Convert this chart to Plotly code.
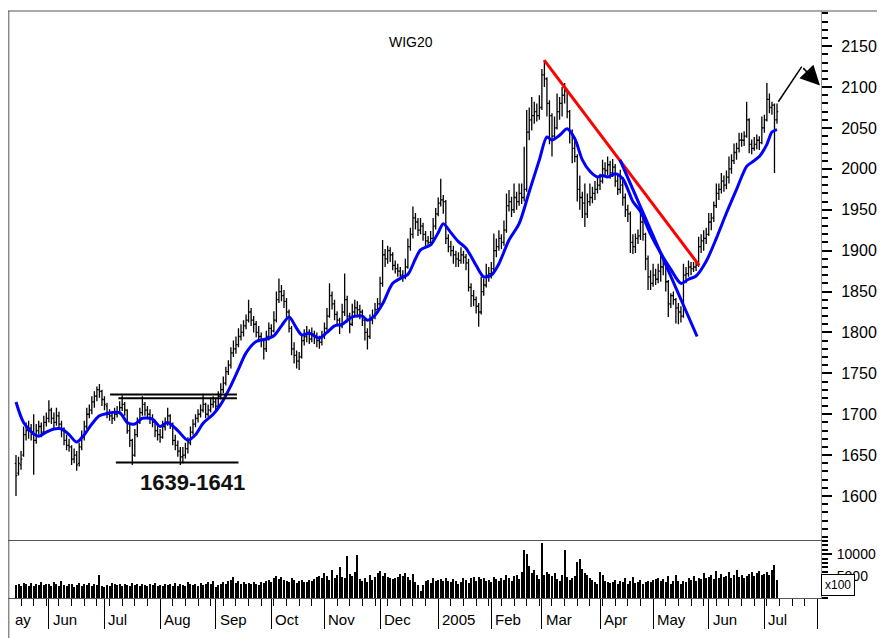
import pandas as pd
import plotly.graph_objects as go

# ---------------- data ----------------
open_ = [1640,1628,1638,1650,1675,1680,1683,1678,1668,1680,1685,1678,1690,1695,1705,1695,1690,1698,1688,1680,
         1668,1662,1660,1645,1650,1640,1660,1672,1685,1700,1705,1715,1722,1730,1728,1718,1710,1700,1698,1695,
         1700,1703,1708,1712,1705,1680,1668,1650,1675,1690,1702,1712,1705,1700,1695,1690,1680,1675,1672,1685,
         1690,1698,1688,1668,1662,1655,1648,1650,1658,1665,1678,1688,1695,1700,1705,1712,1700,1705,1712,1715,
         1710,1722,1730,1738,1752,1760,1775,1780,1785,1795,1800,1808,1815,1825,1815,1810,1800,1795,1790,1780,
         1795,1805,1802,1815,1840,1850,1845,1838,1825,1805,1780,1772,1765,1770,1790,1795,1800,1792,1798,1795,
         1790,1788,1795,1805,1820,1845,1835,1822,1815,1808,1825,1840,1820,1810,1825,1830,1828,1825,1815,1800,
         1795,1815,1820,1828,1835,1860,1895,1890,1900,1895,1882,1878,1875,1870,1868,1880,1905,1920,1940,1935,
         1925,1930,1920,1912,1910,1915,1930,1945,1958,1962,1960,1915,1905,1900,1895,1890,1888,1895,1892,1885,
         1855,1845,1840,1832,1825,1850,1858,1870,1872,1878,1900,1905,1915,1910,1925,1955,1960,1950,1965,1960,
         1970,1965,1975,2045,2060,2065,2070,2065,2075,2115,2110,2080,2065,2040,2050,2070,2080,2090,2095,2070,
         2045,2025,2015,1975,1965,1958,1945,1960,1965,1970,1975,1980,1985,2000,1998,2005,1995,2002,1985,1975,
         1980,1965,1950,1945,1910,1905,1915,1918,1935,1920,1890,1868,1860,1870,1865,1875,1880,1885,1862,1835,
         1845,1840,1830,1825,1820,1870,1872,1880,1878,1880,1882,1905,1912,1915,1920,1935,1940,1955,1970,1975,
         1985,1980,1990,2000,2010,2020,2025,2035,2035,2040,2060,2030,2025,2030,2035,2032,2050,2060,2085,2075,
         2078,2060]
high = [1650,1648,1655,1685,1690,1692,1688,1700,1688,1692,1690,1698,1702,1717,1708,1702,1708,1703,1692,1684,
        1675,1670,1662,1658,1655,1665,1680,1692,1708,1712,1722,1728,1734,1737,1730,1722,1714,1706,1702,1708,
        1710,1716,1723,1715,1706,1688,1670,1682,1696,1708,1722,1715,1710,1706,1700,1692,1686,1682,1692,1696,
        1708,1700,1690,1675,1668,1660,1660,1665,1672,1685,1694,1700,1706,1712,1725,1714,1712,1720,1722,1720,
        1728,1738,1746,1758,1766,1782,1790,1795,1805,1810,1815,1822,1840,1830,1820,1814,1808,1800,1792,1802,
        1812,1810,1826,1850,1866,1858,1852,1842,1828,1808,1788,1778,1776,1798,1804,1808,1804,1806,1802,1800,
        1796,1802,1812,1830,1860,1850,1840,1826,1818,1835,1872,1845,1824,1835,1840,1838,1834,1828,1818,1805,
        1822,1828,1836,1842,1868,1913,1902,1906,1904,1898,1888,1884,1880,1876,1890,1915,1928,1954,1946,1940,
        1940,1934,1924,1918,1924,1940,1952,1965,1988,1968,1962,1920,1912,1906,1900,1898,1904,1900,1896,1890,
        1860,1852,1844,1836,1868,1866,1884,1880,1886,1921,1915,1925,1920,1937,1970,1974,1966,1982,1972,1982,
        1982,2027,2072,2075,2088,2082,2080,2090,2122,2133,2112,2084,2068,2064,2092,2088,2100,2105,2098,2072,
        2048,2035,2018,1992,1972,1982,1970,1982,1978,1985,1990,1994,2011,2008,2015,2010,2012,2006,1992,1999,
        1990,1970,1956,1948,1920,1921,1926,1954,1940,1922,1894,1876,1884,1878,1884,1897,1892,1888,1864,1848,
        1850,1842,1836,1832,1884,1880,1888,1886,1886,1888,1917,1920,1925,1928,1946,1946,1960,1982,1982,1995,
        1992,1998,2015,2018,2031,2032,2044,2044,2046,2082,2062,2036,2039,2042,2040,2064,2066,2105,2092,2082,
        2080,2080]
low = [1600,1625,1632,1648,1668,1670,1668,1626,1664,1675,1672,1675,1685,1690,1688,1682,1686,1682,1672,1662,
       1656,1654,1638,1640,1631,1636,1656,1668,1682,1695,1700,1708,1716,1720,1710,1705,1695,1692,1688,1692,
       1696,1700,1704,1698,1676,1660,1638,1648,1672,1688,1698,1698,1694,1688,1684,1672,1668,1665,1670,1680,
       1686,1682,1662,1656,1648,1638,1640,1646,1652,1662,1675,1684,1690,1696,1702,1695,1697,1702,1708,1704,
       1708,1718,1726,1735,1748,1756,1770,1774,1782,1790,1795,1804,1812,1808,1800,1794,1788,1782,1767,1776,
       1790,1794,1800,1812,1836,1838,1830,1818,1800,1772,1762,1756,1754,1768,1784,1788,1786,1788,1786,1782,
       1780,1784,1792,1802,1818,1828,1815,1808,1798,1805,1820,1812,1799,1808,1820,1820,1816,1808,1790,1779,
       1792,1810,1816,1824,1832,1856,1880,1884,1886,1876,1872,1868,1864,1862,1865,1878,1900,1915,1926,1918,
       1920,1912,1905,1904,1906,1912,1926,1942,1954,1945,1908,1898,1893,1884,1880,1880,1884,1884,1876,1850,
       1831,1832,1823,1807,1822,1845,1855,1862,1866,1875,1892,1900,1902,1906,1922,1948,1941,1946,1950,1955,
       1957,1960,1972,2035,2047,2055,2058,2060,2072,2100,2064,2030,2015,2036,2048,2060,2064,2080,2062,2031,
       2007,2008,1960,1950,1940,1929,1940,1955,1958,1962,1970,1974,1982,1990,1992,1988,1990,1978,1968,1970,
       1955,1941,1935,1897,1896,1897,1908,1913,1912,1876,1852,1852,1856,1858,1860,1862,1870,1850,1819,1830,
       1834,1811,1810,1812,1818,1860,1868,1870,1874,1875,1880,1897,1900,1908,1918,1925,1935,1952,1962,1970,
       1972,1975,1982,1994,2006,2011,2020,2027,2028,2038,2019,2018,2022,2024,2023,2030,2044,2058,2068,2066,
       1995,2055]
close = [1625,1640,1645,1675,1680,1683,1675,1668,1680,1685,1678,1690,1695,1705,1695,1690,1698,1688,1680,1668,
         1662,1660,1645,1650,1638,1660,1672,1685,1700,1705,1715,1722,1730,1728,1718,1712,1700,1698,1695,1700,
         1703,1708,1712,1705,1680,1668,1650,1675,1690,1702,1712,1705,1700,1695,1690,1680,1675,1672,1685,1690,
         1698,1688,1668,1662,1655,1648,1650,1658,1665,1678,1688,1695,1700,1705,1712,1700,1705,1712,1715,1710,
         1722,1730,1738,1752,1760,1775,1780,1785,1795,1800,1808,1815,1825,1815,1810,1800,1795,1790,1780,1795,
         1805,1802,1815,1840,1850,1845,1838,1825,1805,1780,1772,1765,1770,1790,1795,1800,1792,1798,1795,1790,
         1788,1795,1805,1820,1845,1835,1822,1815,1808,1825,1840,1820,1810,1825,1830,1828,1825,1815,1800,1795,
         1815,1820,1828,1835,1860,1895,1890,1900,1895,1882,1878,1875,1870,1868,1880,1905,1920,1940,1935,1925,
         1930,1920,1912,1910,1915,1930,1945,1958,1962,1960,1915,1905,1900,1895,1890,1888,1895,1892,1885,1855,
         1845,1840,1832,1825,1850,1858,1870,1872,1878,1900,1905,1915,1910,1925,1955,1960,1950,1965,1960,1970,
         1965,1975,2045,2060,2065,2070,2065,2075,2115,2110,2080,2065,2040,2050,2070,2080,2090,2095,2070,2045,
         2025,2015,1975,1965,1958,1945,1960,1965,1970,1975,1980,1985,2000,1998,2005,1995,2002,1985,1975,1980,
         1965,1950,1945,1910,1905,1915,1918,1935,1920,1890,1868,1860,1870,1865,1875,1880,1885,1862,1835,1845,
         1840,1830,1825,1820,1870,1872,1880,1878,1880,1882,1905,1912,1915,1920,1935,1940,1955,1970,1975,1985,
         1980,1990,2000,2010,2020,2025,2035,2035,2040,2060,2030,2025,2030,2035,2032,2050,2060,2085,2075,2078,
         2060,2070]
# volume in units of 100 shares (axis shows "x100")
volume = [3000,3300,2750,3450,3100,2850,3350,2650,3200,3000,3550,2900,3300,
          3100,2850,3600,3200,2650,3900,3000,2750,3300,3100,2600,2900,3350,2850,3200,3000,3450,2750,3100,2900,5200,2650,
          2400,3000,2750,3350,3100,2900,3300,2850,3200,3000,2750,3450,2900,3100,2850,3300,3000,2650,3200,2900,3350,2850,
          3000,2750,3300,2900,3100,2650,3350,2850,3200,3000,2750,3600,3100,2900,3300,2850,3350,3000,3200,3700,3100,3900,
          2600,2900,3300,3600,3200,3900,4100,4800,3450,3800,3300,3600,3100,3450,3300,3700,3200,3000,3550,3350,3900,4100,
          3600,4500,5000,4300,4700,4100,3950,3600,4550,4050,3450,3900,4200,3700,3600,4100,3800,4300,4800,5100,4500,
          5600,5000,4050,6500,4500,5300,7100,4800,4500,9500,5500,5000,6000,9800,4300,3900,4650,3600,5200,4100,4700,5600,
          6200,5000,5600,4700,4550,4300,4500,4800,5500,5000,5750,4700,4100,5500,3700,3000,1550,3000,3800,4100,3450,4500,3950,
          4100,4400,3900,4500,3950,3600,4300,3800,3300,3600,4650,4100,3450,4500,4800,3800,4700,4300,4550,3900,4050,
          3700,4900,4300,3950,4500,4100,5200,4650,3800,5000,5300,4300,6000,10900,10100,7300,5600,6350,5200,4300,
          12500,5300,6000,5500,5000,5700,4300,3800,5200,10900,4700,4100,4500,5000,8250,8800,6700,5700,5300,4500,4050,3600,3300,
          6000,5300,3900,3600,3450,3700,4100,3300,3950,3600,4500,3200,3900,4800,3450,3600,4100,3100,3700,3900,3550,
          4100,4300,4500,3950,4300,3600,5000,3200,3950,5200,3800,3300,3950,3600,4500,4100,5000,3950,4650,4300,5700,4500,
          4800,5300,4300,6200,4650,5500,4800,5000,5850,4500,5200,6350,4800,5300,4650,5000,5500,6000,5000,5700,6200,5200,
          5500,6000,5300,6350,7550,4100]

# blue moving-average curve, read as (trading-day index, value)
ma_idx = [0,3,7,9,12,15,18,21,24,27,30,33,36,41,44,47,50,54,57,60,64,68,71,74,78,81,85,88,91,95,99,102,105,108,
          111,113,116,120,123,126,129,133,137,139,142,145,149,152,155,158,160,164,167,169,172,175,178,182,185,188,
          191,195,199,203,207,210,212,215,218,221,224,227,230,232,234,237,240,242,244,247,251,255,259,263,266,269,
          273,277,281,285,289,291,294,297,299,301]
ma_val = [1715,1690,1676,1673,1678,1682,1682,1675,1666,1675,1688,1698,1701,1702,1690,1688,1695,1694,1685,1690,
          1680,1668,1675,1689,1700,1712,1735,1755,1775,1789,1792,1796,1808,1819,1805,1797,1799,1793,1800,1808,
          1810,1819,1820,1815,1821,1835,1860,1866,1871,1890,1901,1907,1922,1933,1922,1911,1903,1882,1868,1870,
          1884,1913,1933,1972,2011,2039,2035,2041,2049,2037,2011,1997,1990,1992,1990,1994,1988,1975,1960,1948,
          1920,1897,1877,1860,1865,1869,1887,1915,1946,1975,2003,2008,2015,2030,2045,2048]

red_trend_idx = [208.9, 270.2]
red_trend_val = [2133, 1882]
blue_trend_idx = [238.9, 269.4]
blue_trend_val = [2011, 1795]
arrow_idx = [301.5, 310.8, 318.0]
arrow_val = [2082, 2125, 2102]
range_top = [1724, 1719.5]          # upper horizontal lines
range_bottom = 1641                 # lower horizontal line
range_label = "1639-1641"

price_ticks = [1600, 1650, 1700, 1750, 1800, 1850, 1900, 1950, 2000, 2050, 2100, 2150]
vol_ticks = [5000, 10000]

# ---------------- calendar ----------------
dates = pd.bdate_range("2004-05-13", periods=322)
idx = list(range(len(close)))
month_idx, month_lbl = [], []
for k in range(1, len(dates)):
    if dates[k].month != dates[k - 1].month:
        month_idx.append(k)
        month_lbl.append(str(dates[k].year) if dates[k].month == 1 else dates[k].strftime("%b"))
week_idx = [k for k in range(len(dates)) if dates[k].weekday() == 0]

FONT = "Liberation Sans Narrow, Arial Narrow, Liberation Sans, Arial, sans-serif"
xr = [-3.16, 318.4]
vdom = 57 / 587

fig = go.Figure()
fig.add_trace(go.Ohlc(x=idx, open=open_, high=high, low=low, close=close,
                      increasing_line_color="black", decreasing_line_color="black",
                      line_width=1.3, tickwidth=0.5, xaxis="x", yaxis="y",
                      showlegend=False, hoverinfo="skip"))
fig.add_trace(go.Scatter(x=ma_idx, y=ma_val, mode="lines",
                         line=dict(color="#0000ff", width=3, shape="spline", smoothing=0.8),
                         xaxis="x", yaxis="y", showlegend=False, hoverinfo="skip"))
fig.add_trace(go.Scatter(x=red_trend_idx, y=red_trend_val, mode="lines",
                         line=dict(color="#ff0000", width=3), xaxis="x", yaxis="y",
                         showlegend=False, hoverinfo="skip"))
fig.add_trace(go.Scatter(x=blue_trend_idx, y=blue_trend_val, mode="lines",
                         line=dict(color="#0000ff", width=3), xaxis="x", yaxis="y",
                         showlegend=False, hoverinfo="skip"))
fig.add_trace(go.Scatter(x=arrow_idx[:2], y=arrow_val[:2], mode="lines",
                         line=dict(color="black", width=1.5), xaxis="x", yaxis="y",
                         showlegend=False, hoverinfo="skip"))
fig.add_trace(go.Bar(x=idx, y=volume, marker=dict(color="black", line_width=0), width=0.4,
                     xaxis="x2", yaxis="y2", showlegend=False, hoverinfo="skip"))

shapes = [
    dict(type="line", xref="x", yref="y", x0=37.2, x1=87.4, y0=range_top[0], y1=range_top[0],
         line=dict(color="black", width=2)),
    dict(type="line", xref="x", yref="y", x0=40.5, x1=87.4, y0=range_top[1], y1=range_top[1],
         line=dict(color="black", width=2)),
    dict(type="line", xref="x", yref="y", x0=39.5, x1=88.0, y0=range_bottom, y1=range_bottom,
         line=dict(color="black", width=2)),
    # outer frame (left and top)
    dict(type="line", xref="paper", yref="paper", x0=0.001, x1=0.001, y0=1, y1=-0.08,
         line=dict(color="#555", width=1)),
    dict(type="line", xref="paper", yref="paper", x0=0, x1=1.09, y0=1, y1=1,
         line=dict(color="#555", width=1)),
]

ann = [
    dict(text="WIG20", xref="paper", yref="paper", x=0.496, y=0.947, showarrow=False,
         xanchor="center", yanchor="middle", font=dict(family=FONT, size=14, color="black")),
    dict(text=range_label, xref="x", yref="y", x=69.8, y=1616, showarrow=False,
         font=dict(family=FONT, size=22, color="#111", weight="bold")),
    dict(text="x100", xref="paper", yref="paper", x=1.0206, y=0.0213, showarrow=False,
         xanchor="center", yanchor="middle",
         font=dict(family=FONT, size=12, color="black"), bgcolor="white",
         bordercolor="black", borderwidth=1, borderpad=3),
    dict(text="", xref="x", yref="y", x=arrow_idx[2], y=arrow_val[2], ax=arrow_idx[1], ay=arrow_val[1],
         axref="x", ayref="y", showarrow=True, arrowhead=2, arrowsize=2.6, arrowwidth=1.5,
         arrowcolor="black", standoff=0),
    dict(text="ay", xref="paper", yref="paper", x=0, y=0, xanchor="left", yanchor="top",
         xshift=5, yshift=-11, showarrow=False, font=dict(family=FONT, size=15, color="black")),
]
for k, lbl in zip(month_idx, month_lbl):
    if k <= len(close) + 2:
        ann.append(dict(text=lbl, xref="x2", yref="paper", x=k, y=0, xanchor="left", yanchor="top",
                        xshift=2, yshift=-11, showarrow=False,
                        font=dict(family=FONT, size=15, color="black")))

fig.update_layout(
    width=885, height=638, margin=dict(l=0, r=72, t=3, b=48),
    paper_bgcolor="white", plot_bgcolor="white", bargap=0,
    shapes=shapes, annotations=ann,
    xaxis=dict(domain=[0, 1], range=xr, anchor="y", showticklabels=False, ticks="",
               showline=False, showgrid=False, zeroline=False, rangeslider=dict(visible=False)),
    xaxis2=dict(domain=[0, 1], range=xr, anchor="y2", tickmode="array", tickvals=month_idx,
                ticks="outside", ticklen=30, tickwidth=1, tickcolor="black", showticklabels=False,
                showline=True, linecolor="#555", linewidth=1, mirror=True,
                showgrid=False, zeroline=False,
                minor=dict(tickmode="array", tickvals=week_idx, ticks="outside", ticklen=7,
                           tickwidth=1, tickcolor="black")),
    yaxis=dict(domain=[vdom, 1], range=[1545, 2193], side="right", anchor="x",
               tickmode="array", tickvals=price_ticks, ticks="outside", ticklen=10, tickwidth=2,
               tickcolor="black", showline=True, linecolor="#999", linewidth=1,
               showgrid=False, zeroline=False, ticklabelstandoff=6,
               tickfont=dict(family=FONT, size=16, color="black"),
               minor=dict(tickmode="linear", tick0=1550, dtick=10, ticks="outside", ticklen=6,
                          tickwidth=2, tickcolor="black")),
    yaxis2=dict(domain=[0, vdom], range=[0, 13000], side="right", anchor="x2",
                tickmode="array", tickvals=vol_ticks, ticktext=[str(v) for v in vol_ticks],
                ticks="outside", ticklen=10, tickwidth=2, tickcolor="black",
                showline=True, linecolor="#999", linewidth=1, showgrid=False, zeroline=False,
                ticklabelstandoff=2, tickfont=dict(family=FONT, size=14, color="black"),
                minor=dict(tickmode="linear", tick0=0, dtick=1000, ticks="outside", ticklen=6,
                           tickwidth=2, tickcolor="black")),
)

fig.write_html("out.html")
